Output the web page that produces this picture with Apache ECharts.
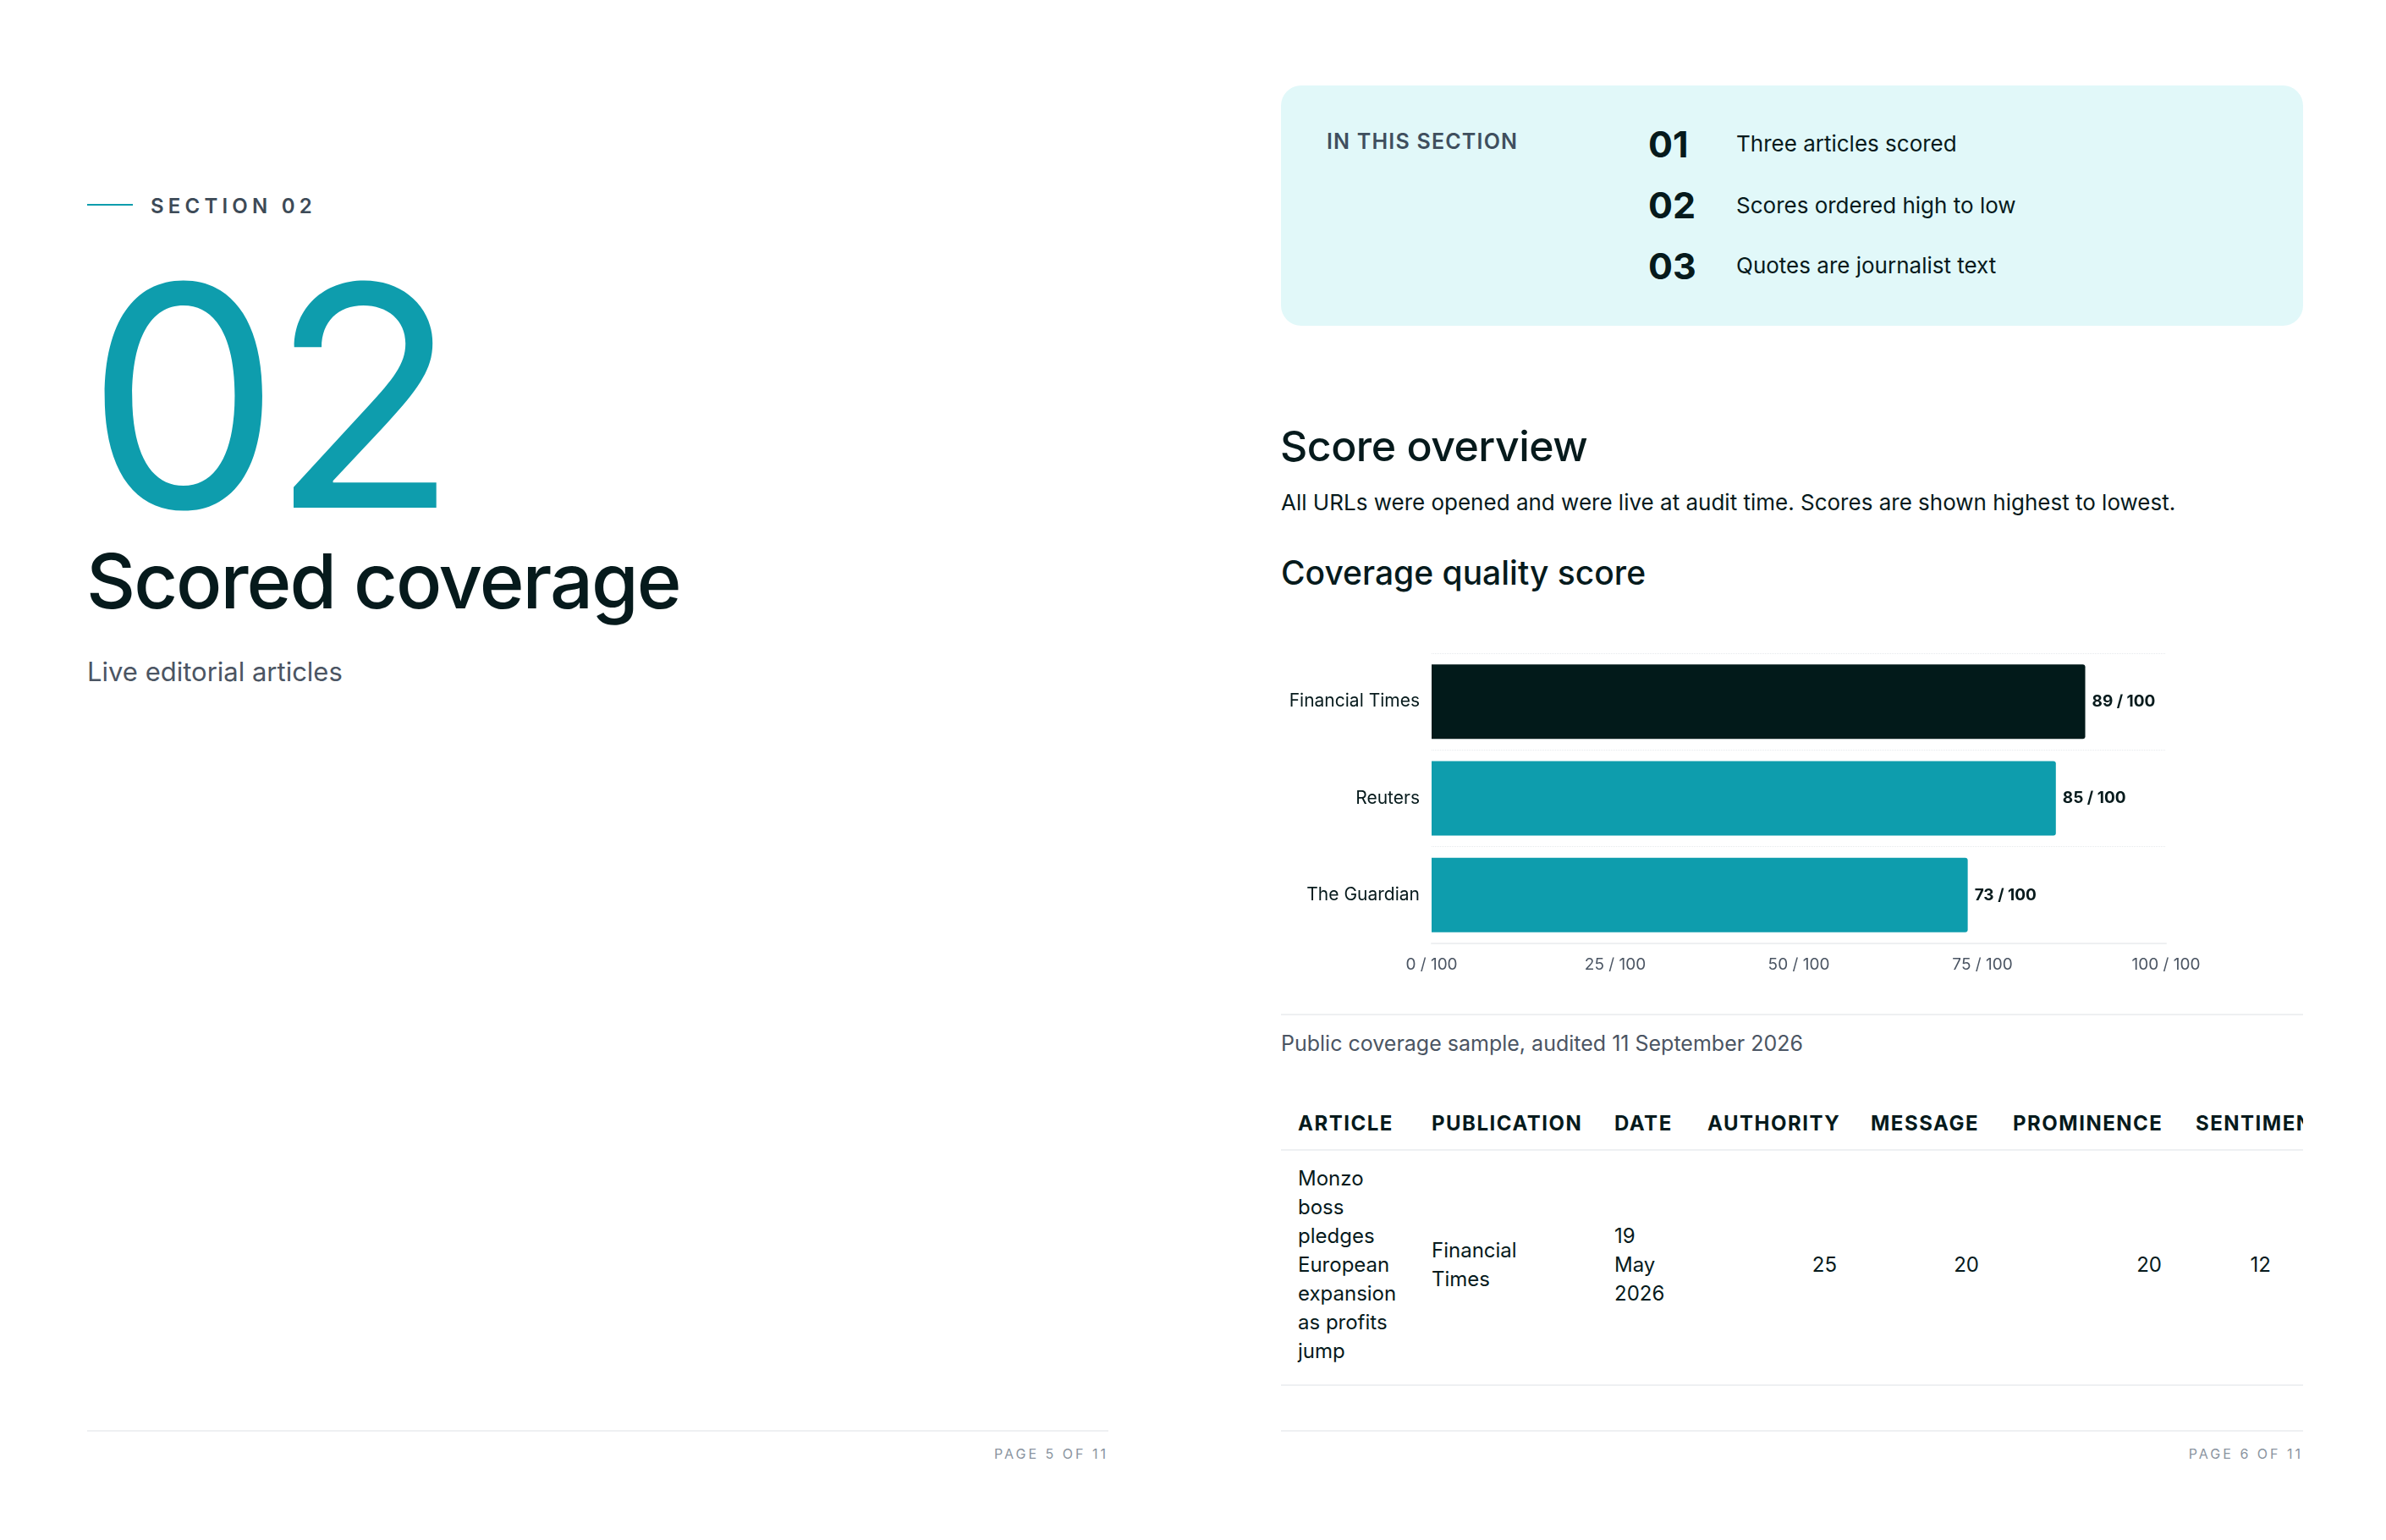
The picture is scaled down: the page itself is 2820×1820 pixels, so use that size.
<!DOCTYPE html>
<html>
<head>
<meta charset="utf-8">
<script src="https://cdn.jsdelivr.net/npm/echarts@6/dist/echarts.min.js"></script>
<style>
  body { margin: 0; width: 2820px; height: 1820px; background: #fff; font-family: Inter, "Noto Sans", sans-serif; color: #061a1c; position: relative; overflow: hidden; }
  .abs { position: absolute; white-space: nowrap; }
  .rule { position: absolute; height: 2px; background: #eef0f2; }
  table { white-space: normal; }
</style>
</head>
<body>
<!-- left page -->
<div class="abs" style="left:103px;top:241px;width:54px;height:2px;background:#0e9dad"></div>
<div class="abs" style="left:178px;top:229px;font-size:24px;font-weight:600;letter-spacing:5.2px;color:#3d4a57">SECTION 02</div>
<div class="abs" style="left:102px;top:286px;font-size:364px;line-height:364px;color:#0e9dad;letter-spacing:-12px">02</div>
<div class="abs" style="left:102px;top:632px;font-size:90px;line-height:110px;font-weight:500;letter-spacing:-2px">Scored coverage</div>
<div class="abs" style="left:103px;top:775px;font-size:31px;color:#4b5563">Live editorial articles</div>
<div class="rule" style="left:103px;top:1690px;width:1207px"></div>
<div class="abs" style="right:1510px;top:1708px;font-size:16px;letter-spacing:3px;color:#8a94a0">PAGE 5 OF 11</div>

<!-- right page -->
<div class="abs" style="left:1514px;top:101px;width:1208px;height:284px;background:#e1f8f9;border-radius:24px"></div>
<div class="abs" style="left:1568px;top:152px;font-size:25px;font-weight:600;letter-spacing:1.2px;color:#3f4f5e">IN THIS SECTION</div>
<div class="abs" style="left:1948px;top:144px;font-size:43px;font-weight:700">01</div>
<div class="abs" style="left:1948px;top:216px;font-size:43px;font-weight:700">02</div>
<div class="abs" style="left:1948px;top:288px;font-size:43px;font-weight:700">03</div>
<div class="abs" style="left:2052px;top:154px;font-size:26px">Three articles scored</div>
<div class="abs" style="left:2052px;top:227px;font-size:26px">Scores ordered high to low</div>
<div class="abs" style="left:2052px;top:298px;font-size:26px">Quotes are journalist text</div>

<div class="abs" style="left:1513px;top:497px;font-size:50px;font-weight:500;letter-spacing:-0.5px">Score overview</div>
<div class="abs" style="left:1514px;top:578px;font-size:26px">All URLs were opened and were live at audit time. Scores are shown highest to lowest.</div>
<div class="abs" style="left:1514px;top:653px;font-size:39px;font-weight:500">Coverage quality score</div>

<div id="chart" class="abs" style="left:1514px;top:738px;width:1208px;height:440px"></div>

<div class="rule" style="left:1514px;top:1198px;width:1208px"></div>
<div class="abs" style="left:1514px;top:1218px;font-size:25px;color:#4b5563">Public coverage sample, audited 11 September 2026</div>

<div class="abs" style="left:1514px;top:1297px;width:1208px;height:360px;overflow:hidden">
  <table id="tbl" style="border-collapse:collapse;font-size:24px;width:1400px;table-layout:fixed"></table>
</div>

<div class="rule" style="left:1514px;top:1690px;width:1208px"></div>
<div class="abs" style="right:98px;top:1708px;font-size:16px;letter-spacing:3px;color:#8a94a0">PAGE 6 OF 11</div>

<script>
const categories = ['Financial Times', 'Reuters', 'The Guardian'];
const scores = [89, 85, 73];
const barColors = ['#021a1a', '#0e9dad', '#0e9dad'];
const xTicks = [0, 25, 50, 75, 100];

const tableHead = ['ARTICLE', 'PUBLICATION', 'DATE', 'AUTHORITY', 'MESSAGE', 'PROMINENCE', 'SENTIMENT'];
const tableRow = ['Monzo boss pledges European expansion as profits jump', 'Financial Times', '19 May 2026', '25', '20', '20', '12'];
const colWidths = [158, 216, 110, 193, 168, 216, 339];

// table
const tbl = document.getElementById('tbl');
let html = '<colgroup>' + colWidths.map(w => `<col style="width:${w}px">`).join('') + '</colgroup><tr>';
tableHead.forEach(h => {
  html += `<th style="text-align:left;padding:16px 20px 16px;font-weight:700;letter-spacing:1.5px;border-bottom:2px solid #eef0f2;white-space:nowrap">${h}</th>`;
});
html += '</tr><tr>';
tableRow.forEach((v, i) => {
  const num = i >= 3;
  const pad = i === 6 ? '16px 230px 22px 20px' : '16px 20px 22px';
  html += `<td style="padding:${pad};line-height:34px;vertical-align:middle;text-align:${num ? 'right' : 'left'};border-bottom:2px solid #eef0f2">${v}</td>`;
});
html += '</tr>';
tbl.innerHTML = html;

// chart
const chart = echarts.init(document.getElementById('chart'));
chart.setOption({
  animation: false,
  textStyle: { fontFamily: 'Inter' },
  grid: { left: 178, right: 162, top: 34, bottom: 63 },
  xAxis: {
    type: 'value', min: 0, max: 100, interval: 25,
    axisLabel: { formatter: v => xTicks.includes(v) ? v + ' / 100' : '', color: '#4b5563', fontSize: 19, margin: 16 },
    axisLine: { show: true, lineStyle: { color: '#eef0f2', width: 2 } },
    axisTick: { show: false },
    splitLine: { show: false }
  },
  yAxis: {
    type: 'category', inverse: true, data: categories,
    axisLabel: { color: '#061a1c', fontSize: 21, margin: 14 },
    axisLine: { show: false }, axisTick: { show: false },
    splitLine: { show: true, lineStyle: { color: '#e6e9ec', type: 'dotted' } }
  },
  series: [{
    type: 'bar', barWidth: '77%',
    data: scores.map((v, i) => ({ value: v, itemStyle: { color: barColors[i], borderRadius: [0, 3, 3, 0] } })),
    label: { show: true, position: 'right', distance: 8, formatter: p => p.value + ' / 100', color: '#061a1c', fontSize: 19, fontWeight: 700 }
  }]
});
</script>
</body>
</html>
